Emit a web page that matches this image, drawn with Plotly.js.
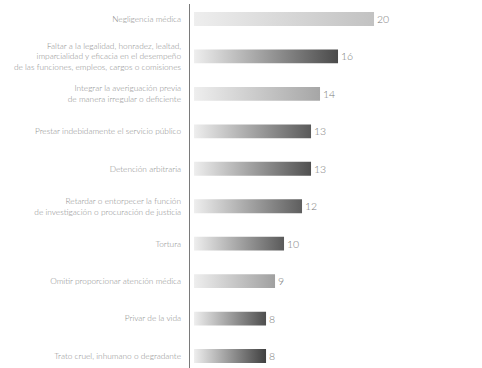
<!DOCTYPE html>
<html><head><meta charset="utf-8">
<script src="https://cdn.plot.ly/plotly-3.0.1.min.js"></script>
<style>html,body{margin:0;padding:0;background:#fff}#c{width:482px;height:368px}</style>
</head><body><div id="c"></div>
<script>
var categories = [
  "Negligencia médica",
  "Faltar a la legalidad, honradez, lealtad,<br>imparcialidad y eficacia en el desempeño<br>de las funciones, empleos, cargos o comisiones",
  "Integrar la averiguación previa<br>de manera irregular o deficiente",
  "Prestar indebidamente el servicio público",
  "Detención arbitraria",
  "Retardar o entorpecer la función<br>de investigación o procuración de justicia",
  "Tortura",
  "Omitir proporcionar atención médica",
  "Privar de la vida",
  "Trato cruel, inhumano o degradante"
];
var values = [20, 16, 14, 13, 13, 12, 10, 9, 8, 8];
var endColors = ["#c2c2c2","#4a4a4a","#a6a6a6","#5a5a5a","#505050","#5e5e5e","#5a5a5a","#a0a0a0","#4e4e4e","#404040"];

var trace = {
  type: "bar", orientation: "h",
  y: categories, x: values,
  text: values.map(String), textposition: "outside",
  textfont: {family: "Lato, 'DejaVu Sans', sans-serif", size: 10.5, color: "#7a7a7a", weight: 300},
  cliponaxis: false,
  width: 0.37,
  marker: {color: "#aaaaaa", line: {width: 0}},
  hoverinfo: "none"
};
var layout = {
  width: 482, height: 368,
  margin: {l: 190, r: 0, t: 4, b: 0},
  paper_bgcolor: "#fff", plot_bgcolor: "#fff",
  showlegend: false,
  xaxis: {range: [-0.45, 32], visible: false, showgrid: false, zeroline: false},
  yaxis: {
    type: "category", range: [9.32, -0.40],
    showline: true, linecolor: "#7a7a7a", linewidth: 1.3,
    showgrid: false, zeroline: false, ticks: "", ticklabelstandoff: 6,
    tickfont: {family: "Lato, 'DejaVu Sans', sans-serif", size: 8.3, color: "#8a8a8a", weight: 300}
  }
};
Plotly.newPlot("c", [trace], layout, {staticPlot: true, displayModeBar: false}).then(function(gd){
  var svg = gd.querySelector(".main-svg");
  var ns = "http://www.w3.org/2000/svg";
  var defs = svg.querySelector("defs") || svg.insertBefore(document.createElementNS(ns, "defs"), svg.firstChild);
  var paths = gd.querySelectorAll(".barlayer .point path");
  paths.forEach(function(p, i){
    var g = document.createElementNS(ns, "linearGradient");
    g.setAttribute("id", "bg" + i);
    g.setAttribute("x1", "0"); g.setAttribute("x2", "1"); g.setAttribute("y1", "0"); g.setAttribute("y2", "0");
    var s1 = document.createElementNS(ns, "stop"); s1.setAttribute("offset", "0"); s1.setAttribute("stop-color", "#eeeeee");
    var s2 = document.createElementNS(ns, "stop"); s2.setAttribute("offset", "1"); s2.setAttribute("stop-color", endColors[i]);
    g.appendChild(s1); g.appendChild(s2); defs.appendChild(g);
    p.style.fill = "url(#bg" + i + ")";
  });
});
</script></body></html>
